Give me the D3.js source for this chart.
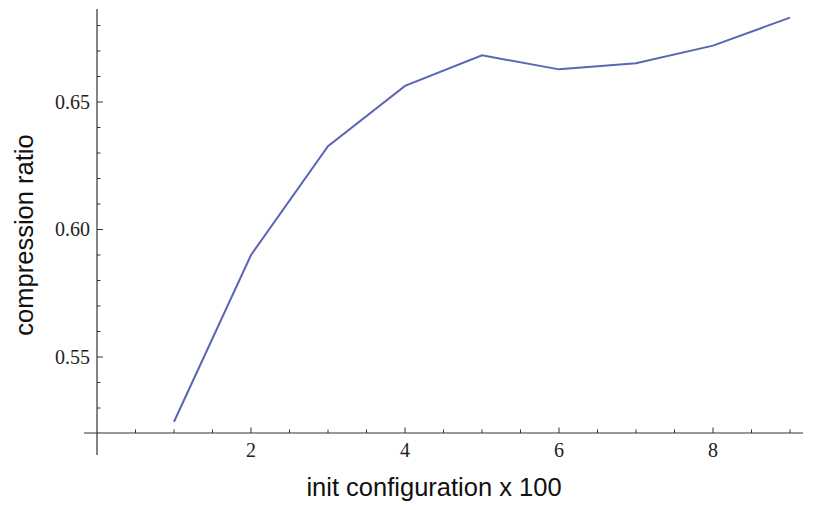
<!DOCTYPE html>
<html><head><meta charset="utf-8">
<script src="https://cdn.jsdelivr.net/npm/d3@7"></script>
<style>body{margin:0;background:#fff}</style>
</head><body>
<svg id="c" width="825" height="510"></svg>
<script>
const xValues = [1, 2, 3, 4, 5, 6, 7, 8, 9];
const ratios = [0.5246, 0.590, 0.6327, 0.6563, 0.6683, 0.6628, 0.6652, 0.6721, 0.6831];
const xTicks = [2, 4, 6, 8];
const yTicks = [0.55, 0.60, 0.65];
const xLabel = "init configuration x 100";
const yLabel = "compression ratio";

const svg = d3.select("#c");
const x = d3.scaleLinear().domain([0, 9]).range([97, 790]);
const y = d3.scaleLinear().domain([0.55, 0.65]).range([357, 102]);
const ox = x(0), oy = y(0.5202);
const axisColor = "#333";
const serif = "'Liberation Serif', 'Times New Roman', serif";
const sans = "'Liberation Sans', Arial, sans-serif";

// x axis line
svg.append("line").attr("x1", 84).attr("x2", x(9.17)).attr("y1", oy).attr("y2", oy)
  .attr("stroke", axisColor).attr("stroke-width", 1.2);
// y axis line
svg.append("line").attr("x1", ox).attr("x2", ox).attr("y1", y(0.6865)).attr("y2", 455)
  .attr("stroke", axisColor).attr("stroke-width", 1.2);

// x ticks
const xMinor = d3.range(0.5, 9.01, 0.5).filter(v => !xTicks.includes(v));
svg.selectAll(".xminor").data(xMinor).join("line")
  .attr("x1", d => x(d)).attr("x2", d => x(d)).attr("y1", oy).attr("y2", oy - 3.5)
  .attr("stroke", axisColor).attr("stroke-width", 1);
svg.selectAll(".xmajor").data(xTicks).join("line")
  .attr("x1", d => x(d)).attr("x2", d => x(d)).attr("y1", oy).attr("y2", oy - 5.5)
  .attr("stroke", axisColor).attr("stroke-width", 1);
svg.selectAll(".xlab").data(xTicks).join("text")
  .attr("x", d => x(d)).attr("y", oy + 24).attr("text-anchor", "middle")
  .attr("font-family", serif).attr("font-size", 20)
  .attr("fill", "#222").text(d => d);

// y ticks
const yMinor = d3.range(0.53, 0.6801, 0.01).map(v => +v.toFixed(2)).filter(v => !yTicks.includes(v));
svg.selectAll(".yminor").data(yMinor).join("line")
  .attr("x1", ox).attr("x2", ox + 3.5).attr("y1", d => y(d)).attr("y2", d => y(d))
  .attr("stroke", axisColor).attr("stroke-width", 1);
svg.selectAll(".ymajor").data(yTicks).join("line")
  .attr("x1", ox).attr("x2", ox + 6).attr("y1", d => y(d)).attr("y2", d => y(d))
  .attr("stroke", axisColor).attr("stroke-width", 1);
svg.selectAll(".ylab").data(yTicks).join("text")
  .attr("x", ox - 7).attr("y", d => y(d) + 6.5).attr("text-anchor", "end")
  .attr("font-family", serif).attr("font-size", 20)
  .attr("fill", "#222").text(d => d.toFixed(2));

// line
svg.append("path").datum(xValues.map((v, i) => [v, ratios[i]]))
  .attr("d", d3.line().x(d => x(d[0])).y(d => y(d[1])))
  .attr("fill", "none").attr("stroke", "#5a66b3").attr("stroke-width", 2);

// axis labels
svg.append("text").attr("x", 434).attr("y", 496).attr("text-anchor", "middle")
  .attr("font-family", sans).attr("font-size", 25.5)
  .attr("fill", "#111").text(xLabel);
svg.append("text").attr("transform", "translate(33,235) rotate(-90)").attr("text-anchor", "middle")
  .attr("font-family", sans).attr("font-size", 25.5)
  .attr("fill", "#111").text(yLabel);
</script>
</body></html>
